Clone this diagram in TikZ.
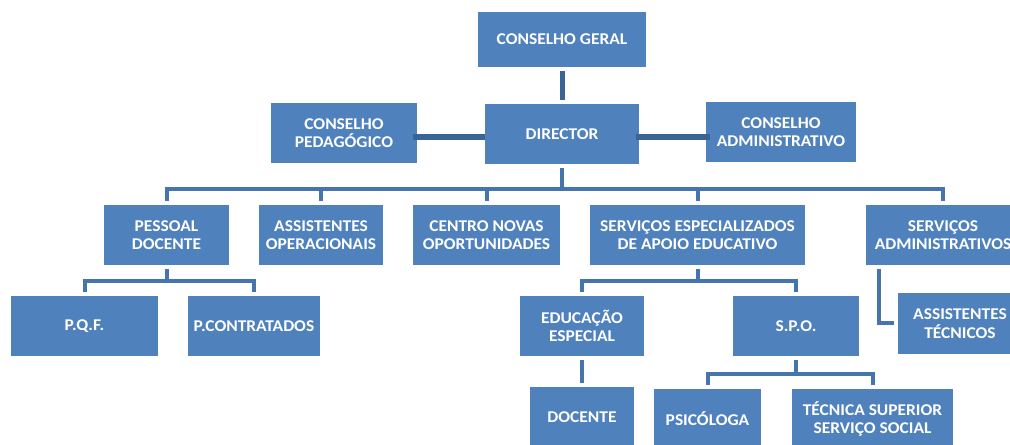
\documentclass[tikz,border=0pt]{standalone}
\usepackage{fontspec}
\setmainfont{Carlito}[FakeStretch=1.06]
\definecolor{boxblue}{HTML}{4F81BD}
\definecolor{linkblue}{HTML}{4674AC}
\definecolor{tieblue}{HTML}{3B6496}

\begin{document}
\begin{tikzpicture}[x=1bp,y=-1bp,
 box/.style={fill=boxblue,text=white,font=\bfseries\fontsize{16.5}{18.5}\selectfont,align=center,inner sep=0pt,minimum height=60bp},
 link/.style={draw=linkblue,line width=4bp,shorten >=4bp,shorten <=4bp},
 tie/.style={draw=tieblue,line width=5.5bp},
 bus/.style={to path={-- ++(0,#1) -| (\tikztotarget)}}]
 \useasboundingbox (0,0) rectangle (1010,445);

 % top
 \node[box,minimum width=168bp,minimum height=55bp] (cg) at (562,39.5) {CONSELHO GERAL};
 \node[box,minimum width=146bp] (cp) at (344,133) {CONSELHO\\PEDAGÓGICO};
 \node[box,minimum width=154bp] (dir) at (562,134) {DIRECTOR};
 \node[box,minimum width=150bp] (ca) at (781,132) {CONSELHO\\ADMINISTRATIVO};

 % second row
 \node[box,minimum width=125bp] (pd) at (166.5,235) {PESSOAL\\DOCENTE};
 \node[box,minimum width=124bp] (ao) at (321,235) {ASSISTENTES\\OPERACIONAIS};
 \node[box,minimum width=147bp] (cno) at (486.5,235) {CENTRO NOVAS\\OPORTUNIDADES};
 \node[box,minimum width=215bp] (sesp) at (697.5,235) {SERVIÇOS ESPECIALIZADOS\\DE APOIO EDUCATIVO};
 \node[box,minimum width=154bp] (sadm) at (943,235) {SERVIÇOS\\ADMINISTRATIVOS};

 % third row
 \node[box,minimum width=147bp] (pqf) at (84.5,326) {P.Q.F.};
 \node[box,minimum width=132bp] (pcon) at (254,326) {P.CONTRATADOS};
 \node[box,minimum width=124bp] (edu) at (582,326) {EDUCAÇÃO\\ESPECIAL};
 \node[box,minimum width=126bp] (spo) at (796,326) {S.P.O.};
 \node[box,minimum width=124bp,minimum height=61bp] (atec) at (960,323.5) {ASSISTENTES\\TÉCNICOS};

 % bottom
 \node[box,minimum width=104bp] (doc) at (582,417) {DOCENTE};
 \node[box,minimum width=107bp] (psi) at (707.5,419) {PSICÓLOGA};
 \node[box,minimum width=161bp] (tec) at (872.5,419) {TÉCNICA SUPERIOR\\SERVIÇO SOCIAL};

 \draw[tie,line width=5bp,shorten >=4bp,shorten <=4bp] (cg) -- (dir);
 \draw[tie] (cp.east) ++(-4,4) coordinate (tl) -- (tl -| dir.west);
 \draw[tie] (dir.east) ++(-3,3) coordinate (tr) -- ([xshift=4bp]tr -| ca.west);

 \path[link] (dir.south)
 edge[bus=25] (pd.north)
 edge[bus=25] (ao.north)
 edge[bus=25] (cno.north)
 edge[bus=25] (sesp.north)
 edge[bus=25] (sadm.north)
 (pd.south)
 edge[bus=16] (pqf.north)
 edge[bus=16] (pcon.north)
 (sesp.south)
 edge[bus=16] (edu.north)
 edge[bus=16] (spo.north)
 (spo.south)
 edge[bus=18] (psi.north)
 edge[bus=18] (tec.north)
 (edu.south)
 edge (doc.north);
 \draw[link] ([xshift=13bp]sadm.south west) |- (atec.west);
\end{tikzpicture}
\end{document}
